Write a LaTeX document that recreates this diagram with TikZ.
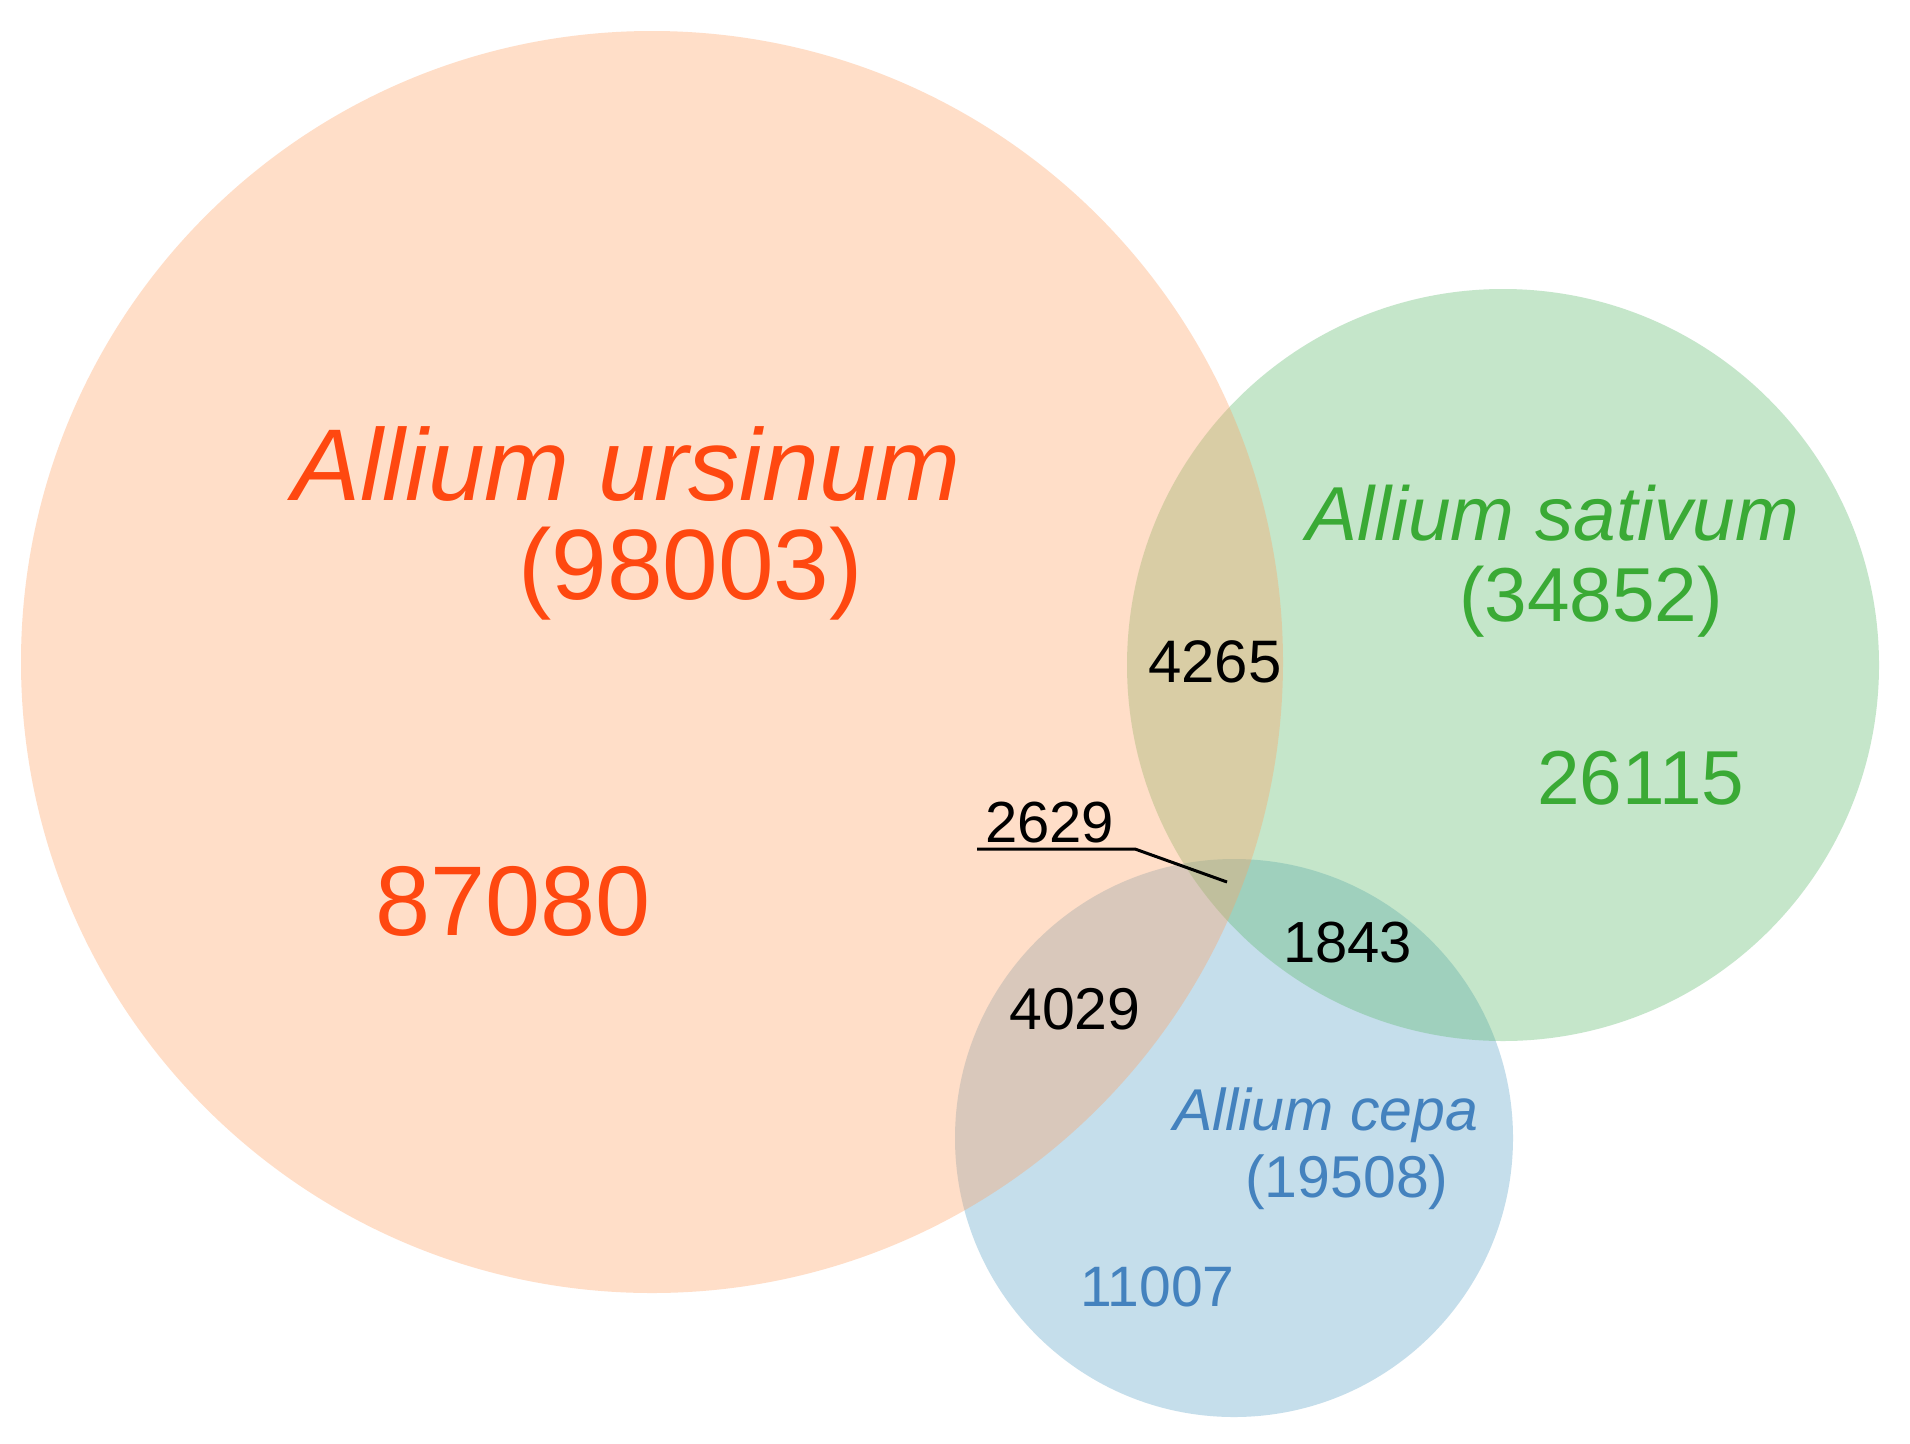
\documentclass[tikz,border=0pt]{standalone}
\usepackage{fontspec}
\setmainfont{Liberation Sans}
\definecolor{corange}{RGB}{255,161,98}
\definecolor{cgreen}{RGB}{89,184,106}
\definecolor{cblue}{RGB}{89,161,198}
\definecolor{torange}{RGB}{255,72,16}
\definecolor{tgreen}{RGB}{58,170,53}
\definecolor{tblue}{RGB}{68,130,190}
\begin{document}
\begin{tikzpicture}[x=1pt,y=-1pt,
  lbl/.style={inner sep=0pt, anchor=base west},
  setfill/.style={fill opacity=0.35, draw=none},
  fs/.style={font=\fontsize{#1}{#1}\selectfont},
  fsi/.style={font=\fontsize{#1}{#1}\selectfont\itshape}
]
\useasboundingbox (0,0) rectangle (1910,1443);
\fill[white] (0,0) rectangle (1910,1443);
% sets
\fill[cblue, setfill] (1234,1138) circle[radius=279pt];
\fill[cgreen, setfill] (1503,665) circle[radius=376pt];
\fill[corange, setfill] (652,662) circle[radius=631pt];
% orange labels
\node[lbl, fsi=102, text=torange] (urs) at (292,500) {Allium ursinum};
\node[lbl, fs=100, text=torange] (urstot) at (518,599) {(98003)};
\node[lbl, fs=99, text=torange] (ursonly) at (375,935) {87080};
% green labels
\node[lbl, fsi=76.5, text=tgreen] (sat) at (1306,540) {Allium sativum};
\node[lbl, fs=76.5, text=tgreen] (sattot) at (1459,621) {(34852)};
\node[lbl, fs=76.5, text=tgreen] (satonly) at (1537,804) {26115};
% blue labels
\node[lbl, fsi=59, text=tblue] (cep) at (1173,1130) {Allium cepa};
\node[lbl, fs=59, text=tblue] (ceptot) at (1245,1197) {(19508)};
\node[lbl, fs=57, text=tblue] (ceponly) at (1080,1306) {11007};
% intersections
\node[lbl, fs=60] (us) at (1148,682) {4265};
\node[lbl, fs=58] (all) at (985,842) {2629};
\node[lbl, fs=58] (sc) at (1283,962) {1843};
\node[lbl, fs=59] (uc) at (1009,1029) {4029};
% leader for 2629
\coordinate (ul1) at (977,849);
\coordinate (ul2) at (1135,849);
\coordinate (tip) at (1227,882);
\draw[line width=3pt] (ul1) -- (ul2) -- (tip);
\end{tikzpicture}
\end{document}
